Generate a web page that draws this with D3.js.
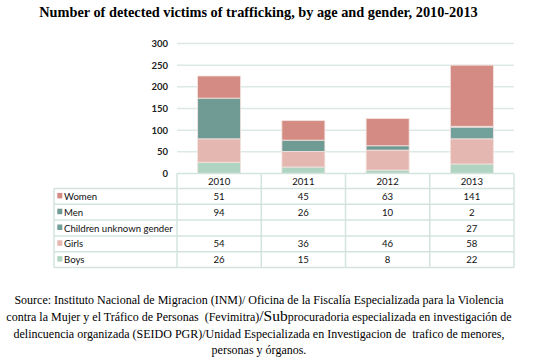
<!DOCTYPE html>
<html><head><meta charset="utf-8">
<script src="https://cdn.jsdelivr.net/npm/d3@7"></script>
<style>body{margin:0;background:#fff} text{white-space:pre}</style>
</head><body>
<svg id="c" width="558" height="360"></svg>
<script>
const years = ["2010","2011","2012","2013"];
const seriesNames = ["Women","Men","Children unknown gender","Girls","Boys"];
const women = [51,45,63,141];
const men = [94,26,10,2];
const unknown = [null,null,null,27];
const girls = [54,36,46,58];
const boys = [26,15,8,22];
const yTicks = [0,50,100,150,200,250,300];
const colors = ["#D38B83","#709B95","#72A09A","#E5B7B1","#AFD4C1"];
const sourceLines = [
  ["Source: Instituto Nacional de Migracion (INM)/ Oficina de la Fiscalía Especializada para la Violencia"],
  ["contra la Mujer y el Tráfico de Personas  (Fevimitra)", "/Sub", "procuradoria especializada en investigación de"],
  ["delincuencia organizada (SEIDO PGR)/Unidad Especializada en Investigacion de  trafico de menores,"],
  ["personas y órganos."]
];

const values = [women, men, unknown, girls, boys];
const svg = d3.select("#c");
const x = d3.scaleBand().domain(years).range([177, 514]);
const y = d3.scaleLinear().domain([0,300]).range([173.5, 43.5]);

// title
svg.append("text").attr("x", 258.5).attr("y", 17).attr("text-anchor","middle")
  .style("font-family","'Liberation Serif'").style("font-weight","bold").style("font-size","14.3px")
  .attr("fill","#000").text("Number of detected victims of trafficking, by age and gender, 2010-2013");

// gridlines
svg.append("g").selectAll("line").data(yTicks.filter(d=>d>0)).join("line")
  .attr("x1",177).attr("x2",514).attr("y1",d=>y(d)).attr("y2",d=>y(d))
  .attr("stroke","#DCEAE5").attr("stroke-width",1.5);

// y axis labels
const yAxis = d3.axisLeft(y).tickValues(yTicks).tickSize(0).tickPadding(0);
const ya = svg.append("g").attr("transform","translate(168,0)").call(yAxis);
ya.select(".domain").remove();
ya.selectAll("text").style("font-family","Lato").style("font-weight","bold").style("font-size","9.5px").attr("fill","#222");

// stacked bars (bottom-up: boys, girls, unknown, men, women)
const stackOrder = [4,3,2,1,0];
const bw = 43;
years.forEach((yr, i) => {
  let base = 0;
  stackOrder.forEach(s => {
    const v = values[s][i] || 0;
    if (v > 0) {
      svg.append("rect").attr("x", x(yr) + (x.bandwidth()-bw)/2).attr("width", bw)
        .attr("y", y(base+v)).attr("height", y(base)-y(base+v))
        .attr("fill", colors[s]).attr("stroke","#F4E4E1").attr("stroke-width",0.8);
    }
    base += v;
  });
});

// table
const tTop = 173.5, hdrH = 15, rowH = 15.8, tLeft = 54, tRight = 514;
const tbl = svg.append("g");
const lineCol = "#D3E4DE";
const fs = "9.6px";
years.forEach((yr,i)=>{
  tbl.append("text").attr("x", x(yr)+x.bandwidth()/2).attr("y", tTop+hdrH/2+3.5).attr("text-anchor","middle")
    .style("font-family","Lato").style("font-size",fs).attr("fill","#111").text(yr);
});
seriesNames.forEach((name, r) => {
  const ry = tTop + hdrH + r*rowH;
  tbl.append("rect").attr("x", 57.3).attr("y", ry+rowH/2-3.5).attr("width",5).attr("height",5.5).attr("fill", colors[r]);
  tbl.append("text").attr("x", 64).attr("y", ry+rowH/2+3.5)
    .style("font-family","Lato").style("font-size",fs).attr("fill","#111").text(name);
  years.forEach((yr,i)=>{
    const v = values[r][i];
    if (v != null) tbl.append("text").attr("x", x(yr)+x.bandwidth()/2).attr("y", ry+rowH/2+3.5).attr("text-anchor","middle")
      .style("font-family","Lato").style("font-size",fs).attr("fill","#111").text(v);
  });
});
const tBottom = tTop + hdrH + seriesNames.length*rowH;
const hl = [tTop, tTop+hdrH].concat(seriesNames.map((d,r)=>tTop+hdrH+(r+1)*rowH));
hl.forEach((yy,k)=>{
  tbl.append("line").attr("x1", k===0 ? 177 : tLeft).attr("x2", tRight).attr("y1",yy).attr("y2",yy)
    .attr("stroke",lineCol).attr("stroke-width",1.5);
});
tbl.append("line").attr("x1",tLeft).attr("x2",tLeft).attr("y1",tTop+hdrH).attr("y2",tBottom).attr("stroke",lineCol).attr("stroke-width",1.5);
years.forEach(yr=>{
  tbl.append("line").attr("x1",x(yr)).attr("x2",x(yr)).attr("y1",tTop).attr("y2",tBottom).attr("stroke",lineCol).attr("stroke-width",1.5);
});
tbl.append("line").attr("x1",tRight).attr("x2",tRight).attr("y1",tTop).attr("y2",tBottom).attr("stroke",lineCol).attr("stroke-width",1.5);

// source
const baselines = [304, 321, 338, 354];
sourceLines.forEach((parts, k) => {
  const t = svg.append("text").attr("x", 259).attr("y", baselines[k]).attr("text-anchor","middle")
    .style("font-family","'Liberation Serif'").style("font-size","12px").attr("fill","#000");
  parts.forEach((p, j) => {
    const ts = t.append("tspan").text(p);
    if (p === "/Sub") ts.style("font-size","15.5px");
  });
});
</script>
</body></html>
